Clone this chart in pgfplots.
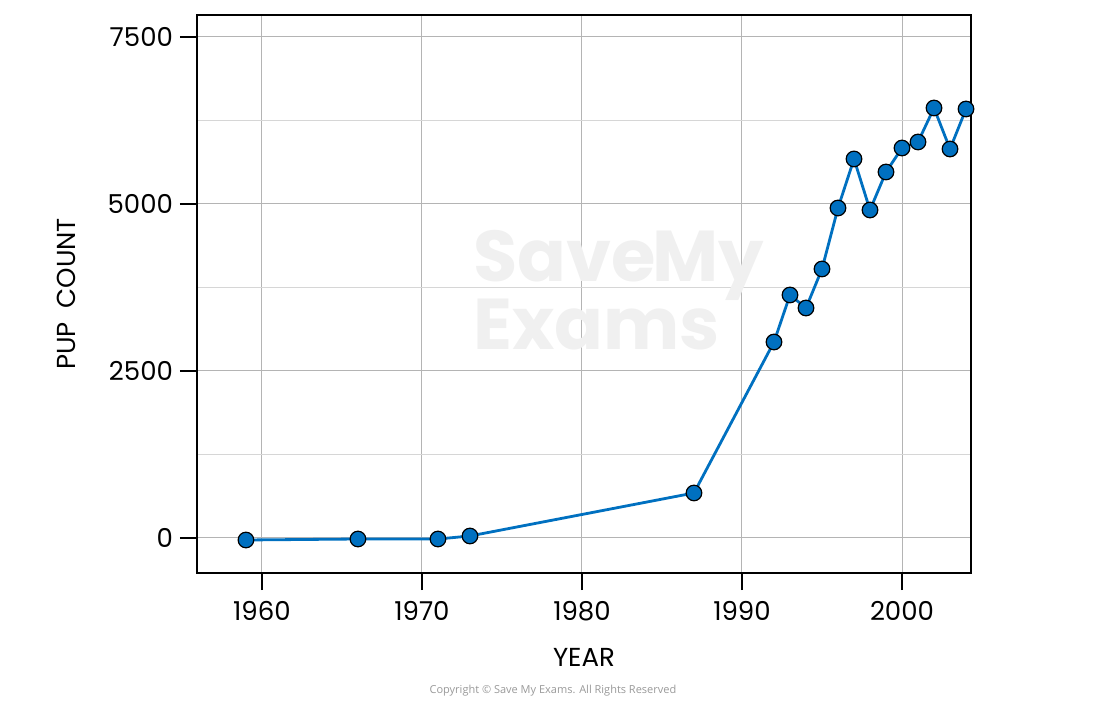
\documentclass[border=0pt]{standalone}
\usepackage{pgfplots}
\pgfplotsset{compat=1.18}
\usepackage{fontspec}
\setmainfont{Poppins}
\newfontfamily\smallfont{Open Sans}
\definecolor{lineblue}{HTML}{0070C0}
\definecolor{majgrid}{HTML}{B4B4B4}
\definecolor{mingrid}{HTML}{D6D6D6}
\begin{document}
\begin{tikzpicture}
\begin{axis}[
  scale only axis,
  width=387pt, height=279pt,
  xmin=1955.94, xmax=2004.31,
  ymin=-524, ymax=7829,
  xtick={1960,1970,1980,1990,2000},
  ytick={0,2500,5000,7500},
  minor ytick={1250,3750,6250},
  xticklabel style={/pgf/number format/1000 sep={}, yshift=-2pt},
  yticklabel style={/pgf/number format/1000 sep={}},
  /pgf/number format/assume math mode=true,
  tick align=outside,
  major tick length=8.5pt,
  minor tick length=0pt,
  tick style={black, line width=0.6pt},
  xtick pos=bottom, ytick pos=left,
  grid=both,
  major grid style={majgrid, line width=0.5pt},
  minor grid style={mingrid, line width=0.6pt},
  axis line style={black, line width=0.7pt},
  ticklabel style={font=\fontsize{13}{15}\selectfont},
  xlabel={YEAR}, ylabel={PUP\ \ COUNT},
  label style={font=\fontsize{13}{15}\selectfont},
  xlabel style={yshift=-7pt},
  ylabel style={yshift=9pt},
  clip=false,
]
\node[anchor=north west, text=black!6, font=\fontsize{36}{36}\selectfont\bfseries, inner sep=0pt, text depth=0pt] at (axis cs:1973.2,4610) {Save\kern-2pt My};
\node[anchor=north west, text=black!6, font=\fontsize{36}{36}\selectfont\bfseries, inner sep=0pt] at (axis cs:1973.2,3580) {Exams};
\addplot[lineblue, line width=1.4pt, mark=*, mark size=3.9pt,
  mark options={fill=lineblue, draw=black, line width=0.6pt}]
  coordinates {
  (1959,-30) (1966,-15) (1971,-15) (1973,30) (1987,674)
  (1992,2934) (1993,3638) (1994,3443) (1995,4027) (1996,4940)
  (1997,5674) (1998,4910) (1999,5479) (2000,5838) (2001,5928)
  (2002,6437) (2003,5823) (2004,6422)
  };
\coordinate (bl) at (rel axis cs:-0.2545,-0.2366);
\coordinate (tr) at (rel axis cs:1.168,1.0269);
\node[font=\smallfont\fontsize{5.5}{6}\selectfont, text=black!40] at (rel axis cs:0.4599,-0.2115) {Copyright \textcopyright\ Save My Exams. All Rights Reserved};
\end{axis}
\path (bl) rectangle (tr);
\end{tikzpicture}
\end{document}
